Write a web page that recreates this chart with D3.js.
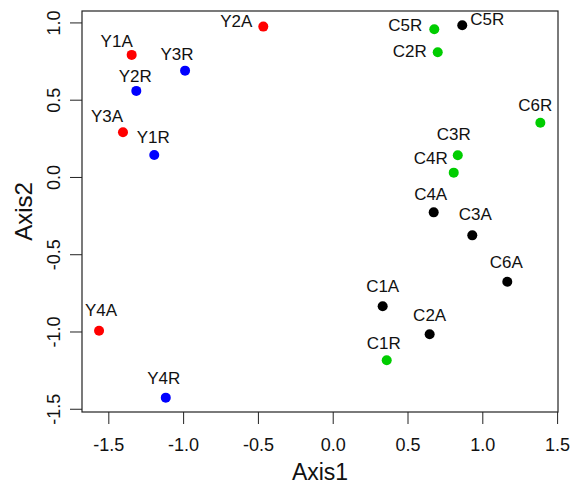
<!DOCTYPE html>
<html>
<head>
<meta charset="utf-8">
<script src="https://cdn.jsdelivr.net/npm/d3@7"></script>
<style>
  body { margin: 0; background: #fff; }
  text { font-family: "Liberation Sans", Arial, sans-serif; }
</style>
</head>
<body>
<div id="scatter"></div>
<script>
// sample names, scores on the two axes, and group colour
var labels = ["Y1A", "Y2A", "Y3A", "Y4A", "Y1R", "Y2R", "Y3R", "Y4R",
  "C1A", "C2A", "C3A", "C4A", "C5R", "C6A",
  "C1R", "C2R", "C3R", "C4R", "C5R", "C6R"];
var axis1 = [-1.344, -0.464, -1.402, -1.562, -1.193, -1.313, -0.987, -1.116,
  0.334, 0.648, 0.933, 0.675, 0.866, 1.167,
  0.361, 0.702, 0.836, 0.809, 0.679, 1.388];
var axis2 = [0.790, 0.973, 0.289, -0.995, 0.142, 0.557, 0.688, -1.428,
  -0.837, -1.018, -0.378, -0.229, 0.982, -0.678,
  -1.186, 0.807, 0.140, 0.028, 0.956, 0.351];
var groups = ["YA", "YA", "YA", "YA", "YR", "YR", "YR", "YR",
  "CA", "CA", "CA", "CA", "CA", "CA",
  "CR", "CR", "CR", "CR", "CR", "CR"];
var xTicks = [-1.5, -1.0, -0.5, 0.0, 0.5, 1.0, 1.5];
var yTicks = [-1.5, -1.0, -0.5, 0.0, 0.5, 1.0];

// label nudges (px) relative to each point
var nudge = [[-15, -8], [-27, 0], [-16, -10], [2, -15], [-1, -12], [-1, -9], [-8, -11], [-2, -14],
  [0, -14], [0, -13], [3, -15], [-3, -12], [25, 0], [-1, -14],
  [-3, -11], [-28, 5], [-4, -15], [-23, -9], [-29, 2], [-5, -12]];

var colors = {YA: "#ff0000", YR: "#0000ff", CA: "#000000", CR: "#00cd00"};

var width = 572, height = 487;
var margin = {top: 11, right: 14, bottom: 75, left: 82};
var w = width - margin.left - margin.right,
    h = height - margin.top - margin.bottom;

var svg = d3.select("#scatter").append("svg")
  .attr("width", width)
  .attr("height", height);

var g = svg.append("g")
  .attr("transform", "translate(" + margin.left + "," + margin.top + ")");

var x = d3.scaleLinear().domain([-1.676, 1.506]).range([0, w]);
var y = d3.scaleLinear().domain([-1.521, 1.074]).range([h, 0]);

var fmt = function(d) { return d.toFixed(1); };

var xAxis = g.append("g")
  .attr("transform", "translate(0," + h + ")")
  .call(d3.axisBottom(x).tickValues(xTicks).tickFormat(fmt).tickSize(12).tickPadding(14));
xAxis.select(".domain").remove();
xAxis.selectAll("line").attr("stroke", "#222");
xAxis.selectAll("text").attr("font-size", 18).attr("fill", "#111")
  .attr("font-family", "Liberation Sans, Arial, sans-serif");

var yAxis = g.append("g")
  .call(d3.axisLeft(y).tickValues(yTicks).tickFormat(fmt).tickSize(12));
yAxis.select(".domain").remove();
yAxis.selectAll("line").attr("stroke", "#222");
yAxis.selectAll("text")
  .attr("x", 0).attr("y", 0).attr("dy", 0)
  .attr("text-anchor", "middle")
  .attr("transform", "translate(-22,0) rotate(-90)")
  .attr("font-size", 18).attr("fill", "#111")
  .attr("font-family", "Liberation Sans, Arial, sans-serif");

g.append("rect")
  .attr("width", w).attr("height", h)
  .attr("fill", "none").attr("stroke", "#222").attr("stroke-width", 1.2);

var idx = d3.range(labels.length);

g.selectAll(".pt")
  .data(idx)
  .enter().append("circle")
  .attr("class", "pt")
  .attr("cx", function(i) { return x(axis1[i]); })
  .attr("cy", function(i) { return y(axis2[i]); })
  .attr("r", 5)
  .attr("fill", function(i) { return colors[groups[i]]; });

g.selectAll(".lab")
  .data(idx)
  .enter().append("text")
  .attr("class", "lab")
  .attr("x", function(i) { return x(axis1[i]) + nudge[i][0]; })
  .attr("y", function(i) { return y(axis2[i]) + nudge[i][1]; })
  .attr("text-anchor", "middle")
  .attr("font-size", 17)
  .attr("fill", "#111")
  .text(function(i) { return labels[i]; });

svg.append("text")
  .attr("x", margin.left + w / 2)
  .attr("y", 480)
  .attr("text-anchor", "middle")
  .attr("font-size", 23)
  .attr("fill", "#111")
  .text("Axis1");

svg.append("text")
  .attr("transform", "translate(32," + (margin.top + h / 2) + ") rotate(-90)")
  .attr("text-anchor", "middle")
  .attr("font-size", 24)
  .attr("fill", "#111")
  .text("Axis2");
</script>
</body>
</html>
